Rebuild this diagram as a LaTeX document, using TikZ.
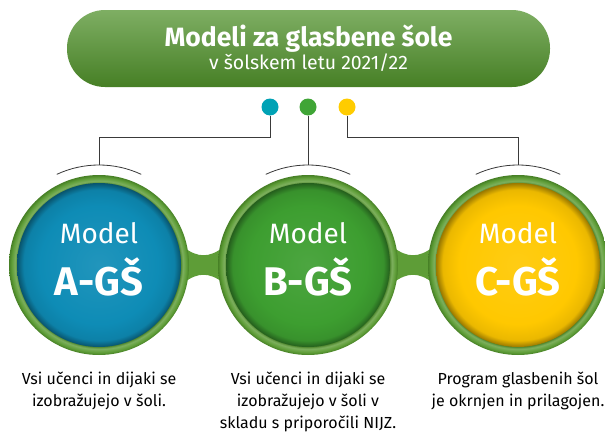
\documentclass[tikz,border=0pt]{standalone}
\usepackage{fontspec}
\setmainfont{Fira Sans}
\usetikzlibrary{positioning, calc}
\definecolor{pillgreen}{HTML}{5E9A3C}
\definecolor{ringgreen}{HTML}{5E9D37}
\definecolor{ringdark}{HTML}{467F25}
\definecolor{modelblue}{HTML}{0E8CB6}
\definecolor{modelgreen}{HTML}{3D9E30}
\definecolor{modelyellow}{HTML}{FFC800}
\definecolor{pinteal}{HTML}{00A2B5}
\definecolor{pingreen}{HTML}{40A536}
\definecolor{pinyellow}{HTML}{FFCC00}
\definecolor{wiregray}{HTML}{3A3A3A}

% shaded balls with a dark rim
\newcommand\declareball[2]{%
  \pgfdeclareradialshading{#1}{\pgfpoint{0bp}{0bp}}{%
    color(0bp)=(#2!92!white); color(18bp)=(#2); color(23bp)=(#2!92!black);
    color(25bp)=(#2!60!black); color(50bp)=(#2!60!black)}}
\declareball{ballblue}{modelblue}
\declareball{ballgreen}{modelgreen}
\declareball{ballyellow}{modelyellow}
\pgfdeclareradialshading{ringshade}{\pgfpoint{0bp}{0bp}}{%
  color(0bp)=(ringdark); color(22.6bp)=(ringdark); color(23.3bp)=(ringgreen!80!white);
  color(24.3bp)=(ringgreen); color(25bp)=(ringdark); color(50bp)=(ringdark)}

\begin{document}
\begin{tikzpicture}[x=1pt, y=-1pt,
  pill/.style={rounded corners=38pt, minimum width=483pt, minimum height=77pt,
    top color=pillgreen!80!white, bottom color=ringdark, text=white, align=center},
  ring/.style={circle, minimum size=180pt, inner sep=0pt, shading=ringshade},
  ball/.style={circle, minimum size=164pt, inner sep=0pt},
  balltext/.style={text=white, align=center, inner sep=0pt, yshift=5.5pt},
  pin/.style={circle, minimum size=17pt, inner sep=0pt},
  wire/.style={draw=wiregray, line width=0.8pt},
  note/.style={align=center, inner sep=0pt, font=\fontsize{16}{22}\selectfont}
]
  \useasboundingbox (0,0) rectangle (605,431);

  % Title
  \node[pill] (title) at (308.5,48.5)
    {\fontsize{26.5}{30}\selectfont\bfseries Modeli za glasbene šole\\
     \fontsize{19.5}{29}\selectfont\mdseries v šolskem letu 2021/22};

  % Pins
  \node[pin, fill=pinteal] (pA) at (270,107) {};
  \node[pin, fill=pingreen] (pB) at (308,107) {};
  \node[pin, fill=pinyellow] (pC) at (347,107) {};

  % Bridges between rings
  \coordinate (rA) at (99,265);
  \coordinate (rB) at (308,265);
  \coordinate (rC) at (518,265);
  \foreach \l/\r in {rA/rB, rB/rC} {
    \coordinate (m) at ($(\l)!0.5!(\r)$);
    \fill[ringgreen] ($(m)+(-20,-18)$) .. controls ($(m)+(-6,-7)$) and ($(m)+(6,-7)$)
      .. ($(m)+(20,-18)$) -- ($(m)+(20,18)$) .. controls ($(m)+(6,7)$) and ($(m)+(-6,7)$)
      .. ($(m)+(-20,18)$) -- cycle;
  }

  % Rings
  \node[ring] (rA) at (99,265) {};
  \node[ring] (rB) at (308,265) {};
  \node[ring] (rC) at (518,265) {};

  % Models
  \node[ball, shading=ballblue] (mA) at (rA) {};
  \node[ball, shading=ballgreen] (mB) at (rB) {};
  \node[ball, shading=ballyellow] (mC) at (rC) {};
  \foreach \m/\t in {mA/A, mB/B, mC/C}
    \node[balltext] (l\m) at (\m)
      {\fontsize{28}{34}\selectfont Model\\[13pt]
       \fontsize{40}{48}\selectfont\bfseries \t-GŠ};

  % Arcs above
  \foreach \r in {rA,rB,rC} {
    \coordinate (t\r) at ($(\r)+(0,-100)$);
    \draw[wiregray, line width=0.8pt] ($(\r)+(-65:100)$) arc[start angle=-65, end angle=-115, radius=100];
  }

  % Connections
  \draw[wire] (pA.south) -- ++(0,22) -| (trA);
  \draw[wire] (pB.south) -- (trB);
  \draw[wire] (pC.south) -- ++(0,22) -| (trC);

  % Notes
  \node[note, below=17pt of rA] (nA) {Vsi učenci in dijaki se\\izobražujejo v šoli.};
  \node[note, below=17pt of rB] (nB) {Vsi učenci in dijaki se\\izobražujejo v šoli v\\skladu s priporočili NIJZ.};
  \node[note, below=17pt of rC] (nC) {Program glasbenih šol\\je okrnjen in prilagojen.};
\end{tikzpicture}
\end{document}
